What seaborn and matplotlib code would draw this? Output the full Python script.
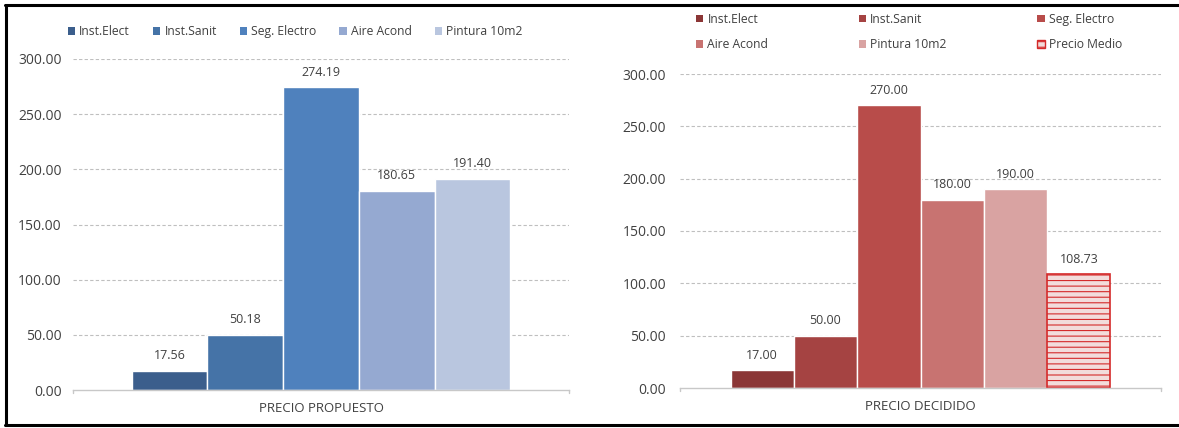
import matplotlib
matplotlib.use("Agg")
import matplotlib.pyplot as plt
import matplotlib.lines as mlines
import matplotlib.patches as mpatches
import seaborn as sns
import pandas as pd

series = ["Inst.Elect", "Inst.Sanit", "Seg. Electro", "Aire Acond", "Pintura 10m2"]
series_right = series + ["Precio Medio"]
propuesto_vals = [17.56, 50.18, 274.19, 180.65, 191.40]
decidido_vals = [17.00, 50.00, 270.00, 180.00, 190.00, 108.73]
cat_left = "PRECIO PROPUESTO"
cat_right = "PRECIO DECIDIDO"
yticks = [0, 50, 100, 150, 200, 250, 300]

blues = ["#3B5E8C", "#4573A7", "#4F81BD", "#95A9D1", "#B9C6DF"]
reds = ["#8B3636", "#A54342", "#B84C4A", "#C87371", "#D9A3A2", "#F2DCDB"]
hatch_edge = "#D42A2A"

sns.set_theme(style="white")
plt.rcParams["font.family"] = ["Open Sans", "DejaVu Sans"]
plt.rcParams["hatch.linewidth"] = 0.8

fig = plt.figure(figsize=(11.79, 4.28), dpi=100)
# left: x 73..569, y 59..390 ; right: x 680..1161, y 74..388
axL = fig.add_axes([73 / 1179, 1 - 390 / 428, 496 / 1179, 331 / 428])
axR = fig.add_axes([680 / 1179, 1 - 388 / 428, 481 / 1179, 314 / 428])

dfL = pd.DataFrame({"grupo": [cat_left] * len(series), "serie": series, "valor": propuesto_vals})
dfR = pd.DataFrame({"grupo": [cat_right] * len(series_right), "serie": series_right, "valor": decidido_vals})

sns.barplot(data=dfL, x="grupo", y="valor", hue="serie", hue_order=series,
            palette=blues, width=0.763, ax=axL, edgecolor="white", linewidth=1.0,
            legend=False, saturation=1)
sns.barplot(data=dfR, x="grupo", y="valor", hue="serie", hue_order=series_right,
            palette=reds, width=0.79, ax=axR, edgecolor="white", linewidth=1.0,
            legend=False, saturation=1)

# hatched "Precio Medio" bar
hb = axR.patches[len(series_right) - 1]
hb.set_hatch("---")
hb.set_edgecolor(hatch_edge)
hb.set_linewidth(1.2)

text_col = "#404040"
for ax, vals, pad in ((axL, propuesto_vals, 8), (axR, decidido_vals, 10)):
    ax.set_ylim(0, 300)
    ax.set_xlim(-0.5, 0.5)
    ax.set_yticks(yticks)
    ax.set_yticklabels([f"{v:.2f}" for v in yticks], fontsize=10, color=text_col)
    ax.tick_params(axis="y", length=0, pad=pad)
    ax.tick_params(axis="x", length=0, pad=9, labelsize=9.5, labelcolor=text_col)
    ax.set_xticks([0])
    ax.set_xlabel("")
    ax.set_ylabel("")
    for s in ("top", "right", "left"):
        ax.spines[s].set_visible(False)
    ax.spines["bottom"].set_color("#C8C8C8")
    ax.spines["bottom"].set_linewidth(1.0)
    ax.set_axisbelow(True)
    ax.yaxis.grid(True, color="#BFBFBF", linestyle=(0, (3, 2)), linewidth=0.8)
    for xe in (-0.5, 0.5):
        ax.plot([xe, xe], [0, -3], color="#C8C8C8", lw=1.0, clip_on=False)
    for p, v in zip(ax.patches, vals):
        ax.annotate(f"{v:.2f}", (p.get_x() + p.get_width() / 2, p.get_height()),
                    xytext=(0, 6), textcoords="offset points", ha="center",
                    va="bottom", fontsize=9, color=text_col)
axL.set_xticklabels([cat_left])
axR.set_xticklabels([cat_right])
for ax in (axL, axR):
    ax.get_ygridlines()[0].set_visible(False)

# legends
hL = [mpatches.Patch(facecolor=c, edgecolor="none", label=s) for c, s in zip(blues, series)]
legL = axL.legend(handles=hL, loc="center", bbox_to_anchor=(0.448, 1.082), ncol=5,
                  frameon=False, fontsize=8.7, handlelength=0.6, handleheight=0.6,
                  handletextpad=0.35, columnspacing=1.9, borderaxespad=0)
hR = [mpatches.Patch(facecolor=c, edgecolor="none", label=s) for c, s in zip(reds[:5], series)]
hR.append(mpatches.Patch(facecolor=reds[5], edgecolor=hatch_edge, hatch="---", label=series_right[5]))
order = [0, 3, 1, 4, 2, 5]
legR = axR.legend(handles=[hR[i] for i in order], loc="lower left",
                  bbox_to_anchor=(0.023, 1.058), ncol=3,
                  frameon=False, fontsize=8.7, handlelength=0.6, handleheight=0.6,
                  handletextpad=0.35, columnspacing=7.5, labelspacing=1.0, borderaxespad=0)
for leg in (legL, legR):
    for t in leg.get_texts():
        t.set_color(text_col)

# outer frame (top, left, bottom)
fig.add_artist(mlines.Line2D([0.004, 1.0], [0.988, 0.988], color="black", lw=2.2, transform=fig.transFigure))
fig.add_artist(mlines.Line2D([0.005, 0.005], [0.006, 0.988], color="black", lw=2.2, transform=fig.transFigure))
fig.add_artist(mlines.Line2D([0.004, 1.0], [0.008, 0.008], color="black", lw=2.2, transform=fig.transFigure))

fig.savefig("out.png", dpi=100)
